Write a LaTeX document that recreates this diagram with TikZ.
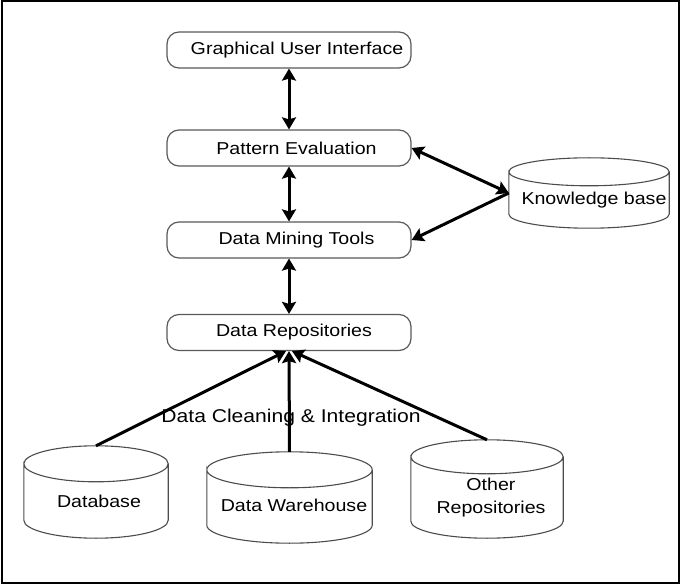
\documentclass[tikz,border=0pt]{standalone}
\usepackage{fontspec}
\setmainfont{Liberation Sans}[FakeStretch=1.14]
\usetikzlibrary{arrows.meta,calc}

\tikzset{
  txt/.style={font=\fontsize{17.2}{22.5}\selectfont},
  box/.style={txt, draw=black!65, line width=1.2pt, rounded corners=12pt,
    minimum width=244pt, minimum height=36pt, inner sep=0pt, fill=white},
  drum/.style={inner sep=0pt},
  drumlbl/.style={txt, align=center, inner sep=0pt},
  cylline/.style={draw=black!70, line width=1.1pt},
  tip/.tip={Stealth[length=12pt,width=14pt,inset=2pt]},
  link/.style={line width=3pt, -tip},
  dlink/.style={line width=3pt, tip-tip}
}

% outline of a storage drum around a node: #1 node name, #2 half height of the end ellipses
\newcommand\drumoutline[2]{%
  \draw[cylline] let \p1=(#1.north west), \p2=(#1.south east), \n1={(\x2-\x1)/2} in
    (\x1,\y1-#2) arc[start angle=180, end angle=-180, x radius=\n1, y radius=#2]
    -- (\x1,\y2+#2) arc[start angle=180, end angle=360, x radius=\n1, y radius=#2]
    -- (\x2,\y1-#2);}

\begin{document}
\begin{tikzpicture}[x=1pt,y=-1pt]
\useasboundingbox (0,0) rectangle (680,585);
\draw[line width=2pt] (1.5,1.5) rectangle (678.5,582.5);

% processing layers
\node[box] (gui) at (289,50)    {\hspace*{16pt}Graphical User Interface};
\node[box] (pe)  at (289,148)   {\hspace*{15pt}Pattern Evaluation};
\node[box] (dmt) at (289,240)   {\hspace*{15pt}Data Mining Tools};
\node[box] (dr)  at (289,332.5) {\hspace*{10pt}Data Repositories};

% stores
\node[drum, minimum width=160pt, minimum height=70pt,
  label={[drumlbl,xshift=5pt,yshift=-7pt]center:Knowledge base}] (kb) at (589,193) {};
\node[drum, minimum width=144pt, minimum height=92pt,
  label={[drumlbl,xshift=3pt,yshift=-9pt]center:Database}] (db) at (96,492) {};
\node[drum, minimum width=165pt, minimum height=91pt,
  label={[drumlbl,xshift=4.5pt,yshift=-7.5pt]center:Data Warehouse}] (dw) at (289.5,497.5) {};
\node[drum, minimum width=152pt, minimum height=98pt,
  label={[drumlbl,xshift=4pt,yshift=-8.5pt]center:Other\\Repositories}] (other) at (487,489) {};

\drumoutline{kb}{14pt}
\drumoutline{db}{18pt}
\drumoutline{dw}{18pt}
\drumoutline{other}{17pt}

\node[font=\fontsize{18.5}{22}\selectfont] (dci) at (291,418) {Data Cleaning \& Integration};

% connectors
\draw[dlink] (gui) -- (pe);
\draw[dlink] (pe) -- (dmt);
\draw[dlink] (dmt) -- (dr);
\draw[dlink] (kb.west) -- (pe.east);
\draw[link] (kb.west) -- (dmt.east);
\draw[link] (db.north) -- ([xshift=-3pt]dr.south);
\draw[link] (dw.north) -- (dr.south);
\draw[link] (other.north) -- ([xshift=3pt]dr.south);
\end{tikzpicture}
\end{document}
